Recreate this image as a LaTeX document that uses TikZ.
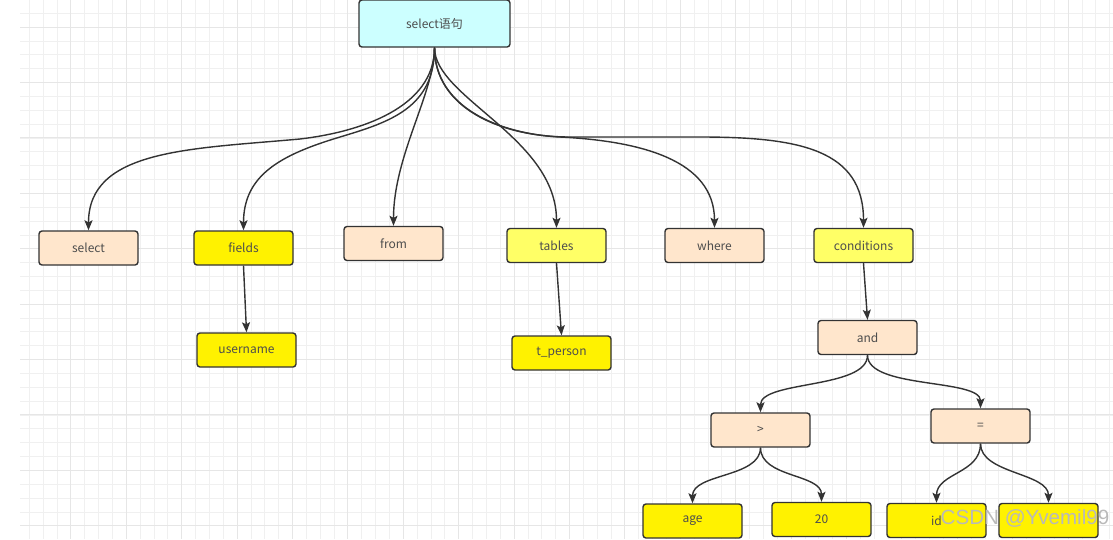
\documentclass[tikz,border=0pt]{standalone}
\usepackage{fontspec}
\setmainfont{Noto Sans CJK SC}
\newfontfamily\markfont{Liberation Sans}
\usetikzlibrary{arrows.meta}
\definecolor{edgegray}{HTML}{333333}
\definecolor{txtgray}{HTML}{4D4D4D}
\definecolor{rootcyan}{HTML}{CCFFFF}
\definecolor{peach}{HTML}{FFE6CC}
\definecolor{lightyellow}{HTML}{FFFF66}
\definecolor{minorgrid}{HTML}{F0F0F0}
\definecolor{majorgrid}{HTML}{E6E6E6}
\begin{document}
\begin{tikzpicture}[x=1pt,y=-1pt,
    box/.style={draw=edgegray,line width=1.4pt,rounded corners=3pt,
      minimum width=99pt,minimum height=34pt,inner sep=0pt,
      text=txtgray,font=\fontsize{12}{14}\selectfont},
    kw/.style={box,fill=peach},
    val/.style={box,fill=yellow},
    grp/.style={box,fill=lightyellow},
    link/.style={draw=edgegray,line width=1.4pt,
      -{Stealth[length=10pt,width=8pt,inset=2pt]}}]
  \useasboundingbox (0,0) rectangle (1113,539);
  % background grid
  \foreach \i in {0,...,78}
    \draw[minorgrid,line width=0.8pt] (29.3+13.85*\i,0) -- (29.3+13.85*\i,539);
  \foreach \i in {0,...,37}
    \draw[minorgrid,line width=0.8pt] (20,13.3+13.85*\i) -- (1113,13.3+13.85*\i);
  \foreach \i in {3,7,...,75}
    \draw[majorgrid,line width=1pt] (29.3+13.85*\i,0) -- (29.3+13.85*\i,539);
  \foreach \i in {1,5,...,37}
    \draw[majorgrid,line width=1pt] (20,13.3+13.85*\i) -- (1113,13.3+13.85*\i);
  % nodes
  \node[box,fill=rootcyan,minimum width=151pt,minimum height=47pt] (root) at (434.5,23.5) {select语句};
  \node[kw] (select) at (88.5,248) {select};
  \node[val] (fields) at (243.5,248) {fields};
  \node[kw] (from) at (393.5,243.5) {from};
  \node[grp] (tables) at (556.5,245.5) {tables};
  \node[kw] (where) at (714.5,245.5) {where};
  \node[grp] (conditions) at (863.5,245.5) {conditions};
  \node[val] (username) at (246.5,350) {username};
  \node[val] (tperson) at (561.5,353) {t\_person};
  \node[kw] (and) at (867.5,337.5) {and};
  \node[kw] (gt) at (760.5,430) {>};
  \node[kw] (eq) at (980.5,426) {=};
  \node[val] (age) at (692.5,521) {age};
  \node[val] (twenty) at (821.5,519.5) {20};
  \node[val] (id) at (936.5,520.5) {id};
  \node[val] (idval) at (1048.5,520.5) {};
  % edges
  \begin{scope}[link]
    \draw (root.south) .. controls +(0,60) and +(60,-7) .. (300,139)
      .. controls +(-110,10) and +(0,-81) .. (select.north);
    \draw (root.south) .. controls +(0,60) and +(50,-15) .. (340,137)
      .. controls +(-60,18) and +(0,-55) .. (fields.north);
    \draw (root.south) .. controls +(0,45) and +(0,-70) .. (from.north);
    \draw (root.south) .. controls +(0,50) and +(0,-90) .. (tables.north);
    \draw (root.south) .. controls +(0,60) and +(-60,-3) .. (560,137)
      .. controls +(80,4) and +(0,-68) .. (where.north);
    \draw (root.south) .. controls +(0,60) and +(-70,0) .. (570,137) -- (700,137)
      .. controls +(100,0) and +(0,-78) .. (conditions.north);
    \draw (fields.south) -- (username.north);
    \draw (tables.south) -- (tperson.north);
    \draw (conditions.south) -- (and.north);
    \draw (and.south) .. controls +(0,34) and +(0,-32) .. (gt.north);
    \draw (and.south) .. controls +(0,34) and +(0,-30) .. (eq.north);
    \draw (gt.south) .. controls +(0,30) and +(0,-30) .. (age.north);
    \draw (gt.south) .. controls +(0,30) and +(0,-28) .. (twenty.north);
    \draw (eq.south) .. controls +(0,30) and +(0,-30) .. (id.north);
    \draw (eq.south) .. controls +(0,30) and +(0,-30) .. (idval.north);
  \end{scope}
  % watermark
  \node[text=gray!55,font=\markfont\fontsize{20.6}{24}\selectfont,inner sep=0pt] (mark) at (1025,518) {CSDN @Yvemil99};
\end{tikzpicture}
\end{document}
